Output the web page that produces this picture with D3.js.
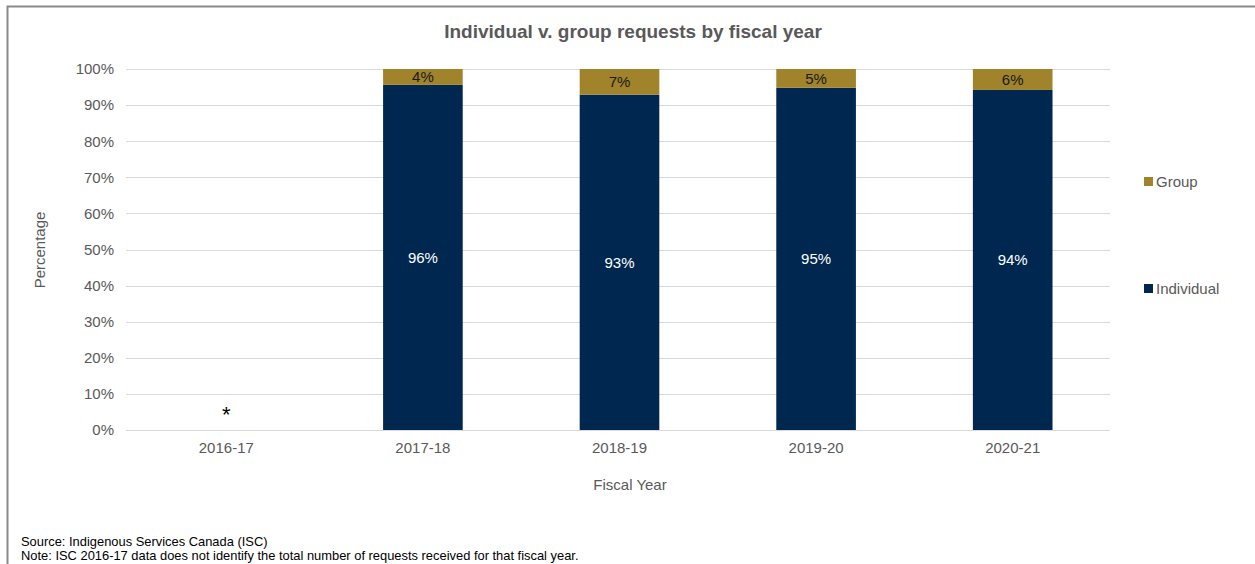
<!DOCTYPE html>
<html><head><meta charset="utf-8">
<script src="https://cdn.jsdelivr.net/npm/d3@7"></script>
<style>body{margin:0;background:#fff;} svg{display:block;font-family:"Liberation Sans",Arial,sans-serif;}</style>
</head><body>
<svg id="chart" width="1255" height="564"></svg>
<script>
const categories = ["2016-17","2017-18","2018-19","2019-20","2020-21"];
const individual = [null, 95.6, 92.9, 94.8, 94.2];
const group = [null, 4.4, 7.1, 5.2, 5.8];
const individualLabels = [null, "96%", "93%", "95%", "94%"];
const groupLabels = [null, "4%", "7%", "5%", "6%"];
const yTicks = [0,10,20,30,40,50,60,70,80,90,100];
const seriesNames = ["Group","Individual"];
const colors = {Individual:"#00274f", Group:"#a0832b"};

const svg = d3.select("#chart");
// frame
svg.append("path").attr("d","M7.5,600 L7.5,6.5 L1300,6.5").attr("fill","none").attr("stroke","#8a8a8a").attr("stroke-width",2);

const x = d3.scaleBand().domain(categories).range([128,1111]).paddingInner(0.595).paddingOuter(0.2975);
const y = d3.scaleLinear().domain([0,100]).range([430,69]);

svg.append("text").attr("x",633).attr("y",38).attr("text-anchor","middle")
  .attr("font-size",19).attr("font-weight","bold").attr("fill","#595959")
  .text("Individual v. group requests by fiscal year");

// gridlines
svg.append("g").selectAll("line").data(yTicks).join("line")
  .attr("x1",126).attr("x2",1110).attr("y1",d=>Math.round(y(d))+0.5).attr("y2",d=>Math.round(y(d))+0.5)
  .attr("stroke","#d9d9d9").attr("stroke-width",1);

// y axis labels
const yAxis = d3.axisLeft(y).tickValues(yTicks).tickFormat(d=>d+"%").tickSize(0).tickPadding(12);
const ya = svg.append("g").attr("transform","translate(126,0)").call(yAxis);
ya.select(".domain").remove();
ya.selectAll("text").attr("font-size",15).attr("fill","#595959").attr("font-family","Liberation Sans, Arial, sans-serif");

// x axis labels
const xAxis = d3.axisBottom(x).tickSize(0).tickPadding(12);
const xa = svg.append("g").attr("transform","translate(0,430)").call(xAxis);
xa.select(".domain").remove();
xa.selectAll("text").attr("font-size",15).attr("fill","#595959").attr("font-family","Liberation Sans, Arial, sans-serif");

const data = categories.map((c,i)=>({cat:c, ind:individual[i], grp:group[i], il:individualLabels[i], gl:groupLabels[i]}));
const valid = data.filter(d=>d.ind!=null);

svg.append("g").selectAll("rect").data(valid).join("rect")
  .attr("x",d=>x(d.cat)).attr("width",x.bandwidth())
  .attr("y",d=>y(d.ind)).attr("height",d=>y(0)-y(d.ind)).attr("fill",colors.Individual);
svg.append("g").selectAll("rect").data(valid).join("rect")
  .attr("x",d=>x(d.cat)).attr("width",x.bandwidth())
  .attr("y",d=>y(d.ind+d.grp)).attr("height",d=>y(d.ind)-y(d.ind+d.grp)).attr("fill",colors.Group);

svg.append("g").selectAll("text").data(valid).join("text")
  .attr("x",d=>x(d.cat)+x.bandwidth()/2).attr("y",d=>(y(0)+y(d.ind))/2)
  .attr("dy","0.35em").attr("text-anchor","middle").attr("font-size",15).attr("fill","#ffffff").text(d=>d.il);
svg.append("g").selectAll("text").data(valid).join("text")
  .attr("x",d=>x(d.cat)+x.bandwidth()/2).attr("y",d=>(y(d.ind)+y(d.ind+d.grp))/2)
  .attr("dy","0.35em").attr("text-anchor","middle").attr("font-size",15).attr("fill","#1a1a1a").text(d=>d.gl);

// asterisk for missing
svg.append("g").selectAll("text").data(data.filter(d=>d.ind==null)).join("text")
  .attr("x",d=>x(d.cat)+x.bandwidth()/2).attr("y",y(0)-8).attr("text-anchor","middle")
  .attr("font-size",22).attr("fill","#000").text("*");

// axis titles
svg.append("text").attr("transform","translate(45,250) rotate(-90)").attr("text-anchor","middle")
  .attr("font-size",15).attr("fill","#595959").text("Percentage");
svg.append("text").attr("x",630).attr("y",490).attr("text-anchor","middle")
  .attr("font-size",15).attr("fill","#595959").text("Fiscal Year");

// legend
const leg = svg.append("g");
const legY = {Group:182, Individual:289};
seriesNames.forEach(n=>{
  leg.append("rect").attr("x",1144).attr("y",legY[n]-5).attr("width",9).attr("height",9).attr("fill",colors[n]);
  leg.append("text").attr("x",1156).attr("y",legY[n]).attr("dy","0.35em").attr("font-size",15).attr("fill","#595959").text(n);
});

// notes
svg.append("text").attr("x",21).attr("y",546).attr("font-size",12.9).attr("fill","#000").text("Source: Indigenous Services Canada (ISC)");
svg.append("text").attr("x",21).attr("y",560).attr("font-size",12.9).attr("fill","#000").text("Note: ISC 2016-17 data does not identify the total number of requests received for that fiscal year.");
</script>
</body></html>
